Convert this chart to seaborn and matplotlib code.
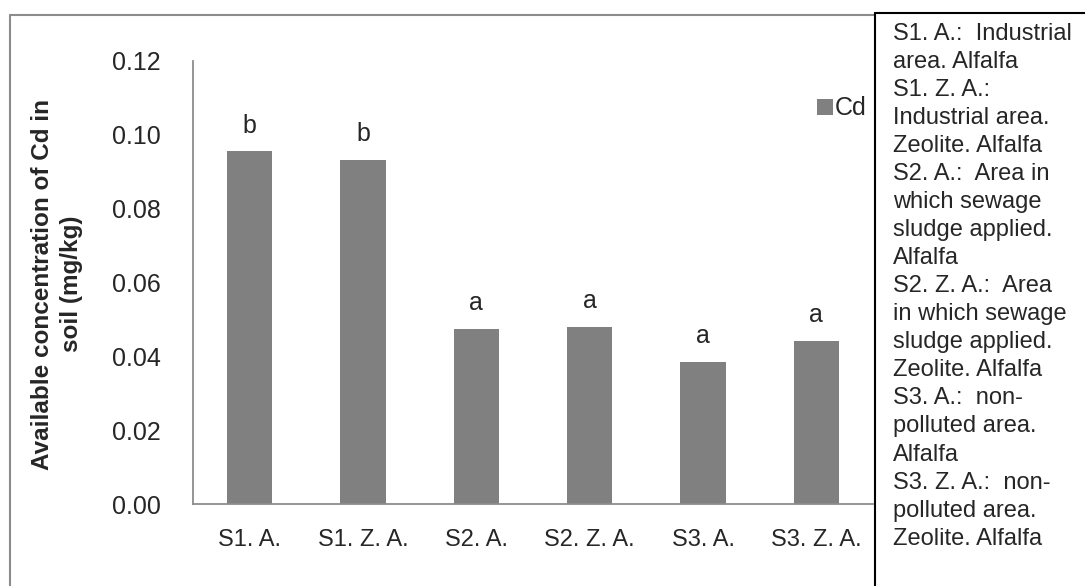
import matplotlib
matplotlib.use("Agg")
import matplotlib.pyplot as plt
import seaborn as sns
import pandas as pd
from matplotlib.patches import Patch
from matplotlib.lines import Line2D

# Data
treatments = ["S1. A.", "S1. Z. A.", "S2. A.", "S2. Z. A.", "S3. A.", "S3. Z. A."]
cd_values = [0.0955, 0.0933, 0.0474, 0.0479, 0.0385, 0.0441]
groups = ["b", "b", "a", "a", "a", "a"]
y_ticks = [0.00, 0.02, 0.04, 0.06, 0.08, 0.10, 0.12]
key_lines = [
    "S1. A.:  Industrial",
    "area. Alfalfa",
    "S1. Z. A.:",
    "Industrial area.",
    "Zeolite. Alfalfa",
    "S2. A.:  Area in",
    "which sewage",
    "sludge applied.",
    "Alfalfa",
    "S2. Z. A.:  Area",
    "in which sewage",
    "sludge applied.",
    "Zeolite. Alfalfa",
    "S3. A.:  non-",
    "polluted area.",
    "Alfalfa",
    "S3. Z. A.:  non-",
    "polluted area.",
    "Zeolite. Alfalfa",
]

sns.set_style("white")
plt.rcParams["font.family"] = ["Liberation Sans", "DejaVu Sans"]

W, H = 1085, 586
fig = plt.figure(figsize=(W / 100, H / 100), dpi=100)

def fx(px):
    return px / W

def fy(py):
    return 1 - py / H

ax = fig.add_axes([fx(193), fy(504), fx(873) - fx(193), fy(61) - fy(504)])

df = pd.DataFrame({"treatment": treatments, "Cd": cd_values})
sns.barplot(data=df, x="treatment", y="Cd", color="#808080", saturation=1,
            width=0.4, ax=ax, edgecolor="none")

ax.set_xlim(-0.5, len(treatments) - 0.5)
ax.set_ylim(0, 0.12)
ax.set_yticks(y_ticks)
ax.set_yticklabels([f"{v:.2f}" for v in y_ticks], fontsize=18)
ax.set_xticks(range(len(treatments)))
ax.set_xticklabels(treatments, fontsize=17)
ax.set_xticks([i - 0.5 for i in range(len(treatments))], minor=True)
ax.tick_params(axis="x", which="major", length=0, pad=18)
ax.tick_params(axis="x", which="minor", length=5, width=1.2, color="#8c8c8c", direction="out")
ax.tick_params(axis="y", length=5, width=1.2, color="#8c8c8c", direction="out", pad=18)
ax.set_xlabel("")
ax.set_ylabel("")

# y-axis title, two centred lines
fig.text(fx(57), fy(284), "Available concentration of Cd in\nsoil (mg/kg)",
         rotation=90, ha="center", va="center", multialignment="center",
         fontsize=17.5, fontweight="bold", linespacing=1.3)

for side in ("top", "right"):
    ax.spines[side].set_visible(False)
for side in ("left", "bottom"):
    ax.spines[side].set_color("#8c8c8c")
    ax.spines[side].set_linewidth(1.3)

# significance letters above bars
for i, (v, g) in enumerate(zip(cd_values, groups)):
    ax.annotate(g, xy=(i, v), xytext=(0, 10), textcoords="offset points",
                ha="center", va="bottom", fontsize=18)

ax.legend(handles=[Patch(facecolor="#808080", edgecolor="none", label="Cd")],
          loc="center left", bbox_to_anchor=(0.918, 0.893), frameon=False,
          fontsize=18, handlelength=0.62, handleheight=0.62, handletextpad=0.08,
          borderaxespad=0, borderpad=0)

# outer chart frame and key panel
fig.add_artist(Line2D([fx(9.5), fx(9.5)], [fy(15), 0], color="#8c8c8c", lw=1.5))
fig.add_artist(Line2D([fx(9.5), fx(874)], [fy(15), fy(15)], color="#8c8c8c", lw=1.5))
fig.add_artist(Line2D([fx(875), fx(875)], [fy(13), 0], color="black", lw=1.5))
fig.add_artist(Line2D([fx(875), 1], [fy(13), fy(13)], color="black", lw=1.5))

fig.text(fx(893), fy(23), "\n".join(key_lines), ha="left", va="top",
         fontsize=17, linespacing=1.355)

fig.savefig("out.png", dpi=100)
